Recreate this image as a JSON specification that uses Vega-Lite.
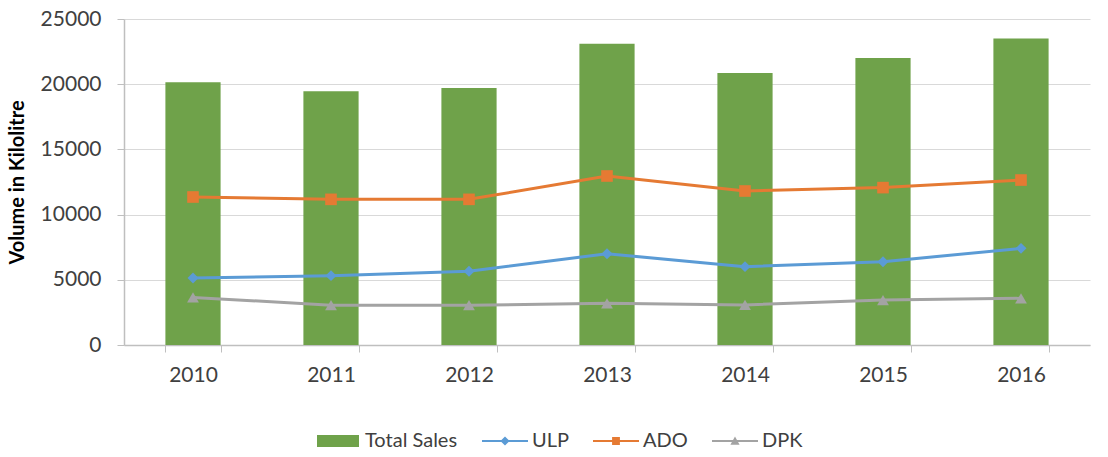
{
  "$schema": "https://vega.github.io/schema/vega-lite/v6.json",
  "width": 966,
  "height": 326,
  "autosize": "none",
  "padding": {"left": 124, "top": 19, "right": 18, "bottom": 112},
  "background": "white",
  "config": {
    "font": "Lato",
    "view": {"stroke": null},
    "axis": {"labelFont": "Lato", "titleFont": "Lato", "labelColor": "#404040", "domainColor": "#bfbfbf", "tickColor": "#bfbfbf", "gridColor": "#d9d9d9"}
  },
  "data": {
    "values": [
      {"year": "2010", "series": "Total Sales", "value": 20150},
      {"year": "2011", "series": "Total Sales", "value": 19450},
      {"year": "2012", "series": "Total Sales", "value": 19700},
      {"year": "2013", "series": "Total Sales", "value": 23100},
      {"year": "2014", "series": "Total Sales", "value": 20850},
      {"year": "2015", "series": "Total Sales", "value": 22000},
      {"year": "2016", "series": "Total Sales", "value": 23500},
      {"year": "2010", "series": "ULP", "value": 5140},
      {"year": "2011", "series": "ULP", "value": 5320},
      {"year": "2012", "series": "ULP", "value": 5650},
      {"year": "2013", "series": "ULP", "value": 7000},
      {"year": "2014", "series": "ULP", "value": 6010},
      {"year": "2015", "series": "ULP", "value": 6390},
      {"year": "2016", "series": "ULP", "value": 7410},
      {"year": "2010", "series": "ADO", "value": 11350},
      {"year": "2011", "series": "ADO", "value": 11170},
      {"year": "2012", "series": "ADO", "value": 11170},
      {"year": "2013", "series": "ADO", "value": 12960},
      {"year": "2014", "series": "ADO", "value": 11810},
      {"year": "2015", "series": "ADO", "value": 12070},
      {"year": "2016", "series": "ADO", "value": 12650},
      {"year": "2010", "series": "DPK", "value": 3650},
      {"year": "2011", "series": "DPK", "value": 3050},
      {"year": "2012", "series": "DPK", "value": 3050},
      {"year": "2013", "series": "DPK", "value": 3200},
      {"year": "2014", "series": "DPK", "value": 3070},
      {"year": "2015", "series": "DPK", "value": 3450},
      {"year": "2016", "series": "DPK", "value": 3580}
    ]
  },
  "encoding": {
    "x": {
      "field": "year", "type": "ordinal",
      "scale": {"paddingInner": 0.6, "paddingOuter": 0.3},
      "axis": {"title": null, "labelAngle": 0, "labelFontSize": 21, "tickBand": "extent", "tickSize": 7, "labelPadding": 12, "grid": false, "domainWidth": 1.5}
    },
    "y": {
      "field": "value", "type": "quantitative",
      "scale": {"domain": [0, 25000], "nice": false},
      "axis": {"title": "Volume in Kilolitre", "titleFontSize": 20, "titleFontWeight": "bold", "titleColor": "#000000", "titlePadding": 13, "values": [0, 5000, 10000, 15000, 20000, 25000], "format": "d", "labelFontSize": 21, "tickSize": 7, "labelPadding": 16, "domainWidth": 1.5, "gridWidth": 1.2}
    },
    "color": {
      "field": "series", "type": "nominal",
      "scale": {"domain": ["Total Sales", "ULP", "ADO", "DPK"], "range": ["#6fa24a", "#5b9bd5", "#e57a33", "#a3a3a3"]},
      "legend": {
        "title": null, "orient": "none", "direction": "horizontal", "legendX": 191, "legendY": 399,
        "symbolSize": 2116, "symbolOpacity": 1, "symbolStrokeWidth": 0, "labelFontSize": 20, "labelFont": "Lato", "labelColor": "#404040", "labelOffset": 4, "columnPadding": 24, "labelLimit": 300
      }
    }
  },
  "layer": [
    {
      "transform": [{"filter": "datum.series === 'Total Sales'"}],
      "mark": {"type": "bar"}
    },
    {
      "transform": [{"filter": "datum.series !== 'Total Sales'"}],
      "mark": {"type": "line", "strokeWidth": 3}
    },
    {
      "transform": [{"filter": "datum.series === 'ULP'"}],
      "mark": {"type": "point", "filled": true, "opacity": 1, "size": 120, "shape": "diamond"}
    },
    {
      "transform": [{"filter": "datum.series === 'ADO'"}],
      "mark": {"type": "point", "filled": true, "opacity": 1, "size": 135, "shape": "square"}
    },
    {
      "transform": [{"filter": "datum.series === 'DPK'"}],
      "mark": {"type": "point", "filled": true, "opacity": 1, "size": 140, "shape": "triangle-up"}
    },
    {
      "transform": [{"filter": "datum.value < 0"}],
      "mark": {"type": "point", "filled": true, "opacity": 1},
      "encoding": {
        "shape": {
          "field": "series", "type": "nominal",
          "scale": {"domain": ["Total Sales", "ULP", "ADO", "DPK"], "range": [
            "M-0.913,-0.26H0.913V0.26H-0.913Z",
            "M-1,-0.045H1V0.045H-1Z M-0.2,0L0,-0.2L0.2,0L0,0.2Z",
            "M-1,-0.045H1V0.045H-1Z M-0.17,-0.17H0.17V0.17H-0.17Z",
            "M-1,-0.045H1V0.045H-1Z M-0.2,0.16L0,-0.2L0.2,0.16Z"
          ]},
          "legend": {
            "title": null, "orient": "none", "direction": "horizontal", "legendX": 191, "legendY": 399,
            "symbolSize": 2116, "symbolOpacity": 1, "symbolStrokeWidth": 0, "labelFontSize": 20, "labelFont": "Lato", "labelColor": "#404040", "labelOffset": 4, "columnPadding": 24, "labelLimit": 300
          }
        }
      }
    }
  ]
}
